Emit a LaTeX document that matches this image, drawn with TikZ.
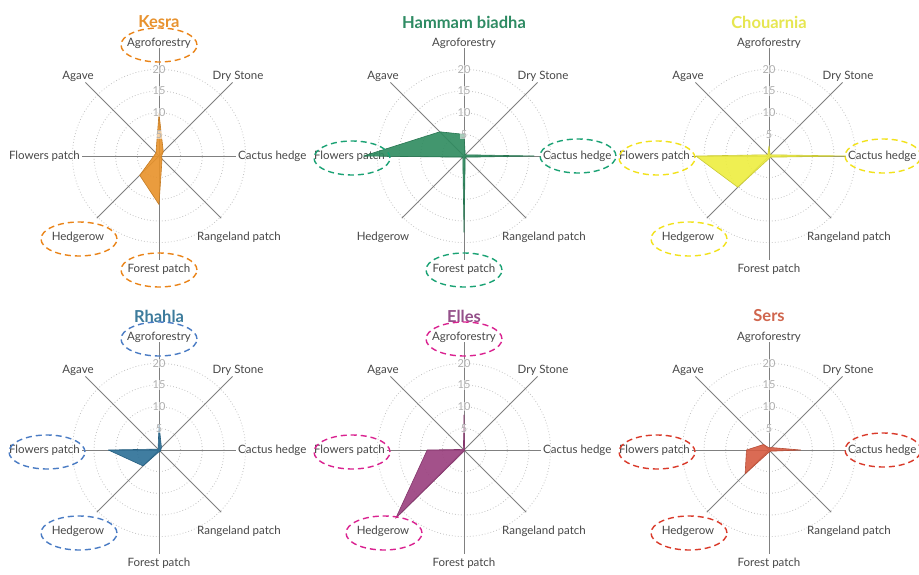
\documentclass[tikz,border=0pt]{standalone}
\usepackage{fontspec}
\setmainfont{Lato}
\usetikzlibrary{shapes.geometric,calc}

\definecolor{axisgray}{HTML}{808080}
\definecolor{ringgray}{HTML}{C4C4C4}
\definecolor{labelgray}{HTML}{474747}
\definecolor{tickgray}{HTML}{B0B0B0}
% site colours: C = data fill, T = title, H = highlight ring
\definecolor{kesraC}{HTML}{E8922A}
\definecolor{kesraT}{HTML}{E8922E}
\definecolor{kesraH}{HTML}{EA8418}
\definecolor{hammamC}{HTML}{2E8B5F}
\definecolor{hammamT}{HTML}{2E8B63}
\definecolor{hammamH}{HTML}{1AA274}
\definecolor{chouC}{HTML}{EEEE40}
\definecolor{chouT}{HTML}{E6E650}
\definecolor{chouH}{HTML}{F2E21A}
\definecolor{rhahlaC}{HTML}{2C6F96}
\definecolor{rhahlaT}{HTML}{3D7C9C}
\definecolor{rhahlaH}{HTML}{4A7CC4}
\definecolor{ellesC}{HTML}{9A3F7E}
\definecolor{ellesT}{HTML}{94508A}
\definecolor{ellesH}{HTML}{DA2290}
\definecolor{sersC}{HTML}{D65C42}
\definecolor{sersT}{HTML}{D0664E}
\definecolor{sersH}{HTML}{DA3A2A}

\newcommand\pxu{4.33} % length of one unit of the radial scale

\tikzset{
  axisline/.style={draw=axisgray, line width=0.9pt},
  ringline/.style={draw=ringgray, line width=0.8pt, dash pattern=on 0.8pt off 2.2pt},
  axislabel/.style={text=labelgray, font=\fontsize{11.5}{13}\selectfont, inner sep=0pt},
  ticklabel/.style={text=tickgray, font=\fontsize{11}{12}\selectfont, fill=white,
    fill opacity=0.55, text opacity=1, inner sep=0.6pt},
  paneltitle/.style={font=\fontsize{16.5}{18}\selectfont\bfseries, inner sep=0pt},
  hlbox/.style={ellipse, minimum width=76pt, minimum height=34pt, inner sep=0pt,
    line width=1.4pt, dash pattern=on 6pt off 4pt},
  datashape/.style={fill=#1, fill opacity=0.9, draw=#1!85!black, line width=0.6pt,
    line join=round},
}

% rings, axes, axis labels and title of one radar chart
% #1 prefix, #2 centre x, #3 centre y, #4 title
\newcommand\radarframe[4]{%
  \coordinate (#1-c) at (#2,#3);
  \foreach \r in {5,10,15,20}
    \draw[ringline] (#1-c) circle ({\r*\pxu});
  \foreach \ang/\len/\nm in {90/108/agro,45/104/dry,0/77/cactus,-45/88/range,
      -90/104/forest,-135/88/hedge,180/77/flowers,135/104/agave}
    \draw[axisline] (#1-c) -- ++(\ang:\len) coordinate (#1-end-\nm);
  \node[paneltitle, text=#1T] (#1-title) at ($(#1-c)+(0,134)$) {#4};
  \node[axislabel] (#1-agro) at ($(#1-c)+(0,113)$) {Agroforestry};
  \node[axislabel] (#1-dry) at ($(#1-c)+(79,80)$) {Dry Stone};
  \node[axislabel] (#1-agave) at ($(#1-c)+(-81,80)$) {Agave};
  \node[axislabel, anchor=east] (#1-flowers) at ($(#1-c)+(-79,0)$) {Flowers patch};
  \node[axislabel, anchor=west] (#1-cactus) at ($(#1-c)+(79,0)$) {Cactus hedge};
  \node[axislabel] (#1-hedge) at ($(#1-c)+(-81,-81)$) {Hedgerow};
  \node[axislabel] (#1-range) at ($(#1-c)+(80,-81)$) {Rangeland patch};
  \node[axislabel] (#1-forest) at ($(#1-c)+(0,-113)$) {Forest patch};
}

% tick values drawn over the data
\newcommand\radarticks[1]{%
  \foreach \r in {5,10,15,20}
    \node[ticklabel] (#1-tick\r) at ($(#1-c)+(0,{\r*\pxu})$) {\r};
}

% data polygon: #1 prefix, then Agroforestry, Dry Stone, Cactus hedge,
% Rangeland patch, Forest patch, Hedgerow, Flowers patch, Agave
\newcommand\radarshape[9]{%
  \path[datashape=#1C]
    ($(#1-c)+(90:{#2*\pxu})$) -- ($(#1-c)+(45:{#3*\pxu})$) --
    ($(#1-c)+(0:{#4*\pxu})$) -- ($(#1-c)+(-45:{#5*\pxu})$) --
    ($(#1-c)+(-90:{#6*\pxu})$) -- ($(#1-c)+(-135:{#7*\pxu})$) --
    ($(#1-c)+(180:{#8*\pxu})$) -- ($(#1-c)+(135:{#9*\pxu})$) -- cycle;
}

% dashed ring round a category label
% #1 prefix, #2 category
\newcommand\ringmark[2]{%
  \node[hlbox, draw=#1H] (#1-hl-#2) at ($(#1-c)+(\csname hl@#2\endcsname)$) {};
}
\makeatletter
\def\hl@agro{0,111}
\def\hl@forest{0,-114}
\def\hl@flowers{-112,-2}
\def\hl@cactus{114,0}
\def\hl@hedge{-80,-83}
\makeatother

\begin{document}
\begin{tikzpicture}[x=1pt, y=1pt]
  \useasboundingbox (0,0) rectangle (919,574);
  \fill[white] (0,0) rectangle (919,574);
  \clip (0,0) rectangle (919,574);

  % top row
  \radarframe{kesra}{159}{418}{Kesra}
  \radarshape{kesra}{9.8}{1.4}{0.6}{1.0}{11.2}{6.3}{1.2}{1.0}
  \radarticks{kesra}

  \radarframe{hammam}{464}{418}{Hammam biadha}
  \radarshape{hammam}{5.0}{0.4}{16.2}{0.4}{17.6}{0.4}{23.2}{7.9}
  \radarticks{hammam}

  \radarframe{chou}{769}{418}{Chouarnia}
  \radarshape{chou}{2.3}{0.4}{17.7}{0.4}{0.6}{10.2}{16.9}{0.4}
  \radarticks{chou}

  % bottom row
  \radarframe{rhahla}{159}{124}{Rhahla}
  \radarshape{rhahla}{5.9}{0.8}{0.4}{0.4}{0.4}{5.2}{11.7}{0.3}
  \radarticks{rhahla}

  \radarframe{elles}{464}{124}{Elles}
  \radarshape{elles}{8.1}{0.2}{0.2}{0.2}{0.3}{22.3}{8.5}{0.2}
  \radarticks{elles}

  \radarframe{sers}{769}{124}{Sers}
  \radarshape{sers}{0.5}{0.8}{7.3}{0.4}{0.5}{7.8}{5.2}{1.8}
  \radarticks{sers}

  % highlighted categories
  \ringmark{kesra}{agro}
  \ringmark{kesra}{hedge}
  \ringmark{kesra}{forest}
  \ringmark{hammam}{flowers}
  \ringmark{hammam}{cactus}
  \ringmark{hammam}{forest}
  \ringmark{chou}{flowers}
  \ringmark{chou}{cactus}
  \ringmark{chou}{hedge}
  \ringmark{rhahla}{agro}
  \ringmark{rhahla}{flowers}
  \ringmark{rhahla}{hedge}
  \ringmark{elles}{agro}
  \ringmark{elles}{flowers}
  \ringmark{elles}{hedge}
  \ringmark{sers}{flowers}
  \ringmark{sers}{cactus}
  \ringmark{sers}{hedge}
\end{tikzpicture}
\end{document}
